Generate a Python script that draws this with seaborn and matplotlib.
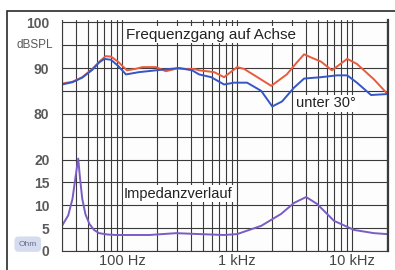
import numpy as np
import pandas as pd
import matplotlib
matplotlib.use("Agg")
import matplotlib.pyplot as plt
import seaborn as sns

# on-axis response (Hz, dBSPL)
freq_axis = [30, 37, 45, 55, 64, 72, 80, 92, 110, 130, 150, 197, 240, 300, 360, 424, 467,
             632, 770, 1000, 1150, 1500, 1980, 2700, 3300, 3820, 4500, 5360, 6670,
             9060, 11000, 15500, 20000]
spl_axis = [86.6, 87.0, 88.0, 89.8, 91.5, 92.6, 92.5, 91.4, 89.5, 89.8, 90.2, 90.2, 89.3,
            89.9, 89.8, 89.8, 89.5, 89.1, 88.0, 90.2, 89.8, 88.0, 86.1, 88.6, 91.2, 93.0,
            92.2, 91.4, 89.5, 92.0, 90.9, 87.5, 84.5]

# response at 30 degrees
freq_30 = [30, 37, 45, 55, 63, 70, 80, 92, 108, 140, 197, 313, 406, 467, 595, 770, 940,
           1220, 1620, 2020, 2460, 3120, 3820, 5360, 7390, 9060, 11000, 14600, 20000]
spl_30 = [86.4, 86.9, 87.9, 89.6, 91.2, 92.0, 91.8, 90.5, 88.6, 89.1, 89.5, 90.0, 89.5,
          88.6, 88.0, 86.4, 86.8, 86.8, 85.0, 81.6, 82.7, 85.7, 87.7, 88.0, 88.4, 88.4,
          86.8, 84.1, 84.3]

# impedance (Hz, Ohm)
freq_imp = [30, 34, 37, 39.5, 41.5, 43, 45, 48, 52, 57, 63, 75, 89, 172, 295, 467, 770,
            1000, 1620, 2410, 3120, 3980, 4950, 6950, 10400, 15500, 20000]
ohm_imp = [5.5, 7.8, 11.4, 16.5, 20.2, 16.0, 11.4, 8.0, 5.9, 4.6, 3.9, 3.6, 3.5, 3.5, 3.9,
           3.7, 3.5, 3.7, 5.5, 8.1, 10.5, 11.8, 10.3, 6.6, 4.6, 3.9, 3.7]

db_ticks = [80, 90, 100]
ohm_ticks = [0, 5, 10, 15, 20]
x_ticks = [100, 1000, 10000]
x_labels = ["100 Hz", "1 kHz", "10 kHz"]


def db_to_u(v):
    return (np.asarray(v) - 50) / 5.0


def ohm_to_u(v):
    return np.asarray(v) / 5.0


sns.set_style("white")
plt.rcParams["font.family"] = ["Liberation Sans", "DejaVu Sans"]

fig = plt.figure(figsize=(3.95, 2.70), dpi=100)
fig.add_artist(plt.Rectangle((7 / 395, -0.1), 1.2, 1.059, transform=fig.transFigure,
                             fill=False, edgecolor="#2a2a2a", linewidth=1.2))
ax = fig.add_axes([62 / 395, 19 / 270, 326 / 395, 231 / 270])
ax.set_facecolor("#fdfdfe")

df_axis = pd.DataFrame({"f": freq_axis, "u": db_to_u(spl_axis)})
df_30 = pd.DataFrame({"f": freq_30, "u": db_to_u(spl_30)})
df_imp = pd.DataFrame({"f": freq_imp, "u": ohm_to_u(ohm_imp)})

sns.lineplot(data=df_axis, x="f", y="u", ax=ax, color="#ea5a3c", linewidth=1.4, sort=False)
sns.lineplot(data=df_30, x="f", y="u", ax=ax, color="#3556c4", linewidth=1.4, sort=False)
sns.lineplot(data=df_imp, x="f", y="u", ax=ax, color="#7a5cc4", linewidth=1.4, sort=False)

ax.set_xscale("log")
ax.set_xlim(30, 20500)
ax.set_ylim(0, 10.1)

minor = [m * d for d in (10, 100, 1000, 10000) for m in range(2, 10)]
ax.set_xticks(x_ticks)
ax.set_xticklabels(x_labels)
ax.set_xticks([m for m in minor if 30 <= m <= 20000], minor=True)
ax.set_yticks(range(0, 11))
ylabels = [""] * 11
for v in ohm_ticks:
    ylabels[int(ohm_to_u(v))] = str(v)
for v in db_ticks:
    ylabels[int(db_to_u(v))] = str(v)
ax.set_yticklabels(ylabels)
ax.tick_params(axis="both", which="both", length=0)
ax.tick_params(axis="y", pad=9, labelsize=10, labelcolor="#5a5a5a")
ax.tick_params(axis="x", pad=2, labelsize=10.5, labelcolor="#444444")
for t in ax.get_yticklabels():
    t.set_fontweight("bold")
ax.grid(True, which="both", color="#3a3a3a", linewidth=0.8)
ax.set_xlabel("")
ax.set_ylabel("")

for side in ("left", "bottom"):
    ax.spines[side].set_color("#3a3a3a")
    ax.spines[side].set_linewidth(0.8)
ax.spines["top"].set_visible(False)
ax.spines["right"].set_color("#3a3a3a")
ax.spines["right"].set_linewidth(1.6)

ax.text(-0.028, 9.0, "dBSPL", transform=ax.get_yaxis_transform(), ha="right", va="center",
        fontsize=8.5, color="#5a5a5a")
ax.text(-0.105, 0.3, "Ohm", transform=ax.get_yaxis_transform(), ha="center", va="center",
        fontsize=6, color="#6a6a8a",
        bbox=dict(facecolor="#d4dcee", edgecolor="none", boxstyle="round,pad=0.5"))

box = dict(facecolor="white", edgecolor="none", pad=1)
ax.text(108, 9.45, "Frequenzgang auf Achse", fontsize=11, color="#222222", ha="left",
        va="center", bbox=box)
ax.text(3270, 6.45, "unter 30°", fontsize=10.5, color="#222222", ha="left", va="center",
        bbox=box)
ax.text(104, 2.5, "Impedanzverlauf", fontsize=10.5, color="#222222", ha="left", va="center",
        bbox=box)

fig.savefig("out.png", dpi=100)
